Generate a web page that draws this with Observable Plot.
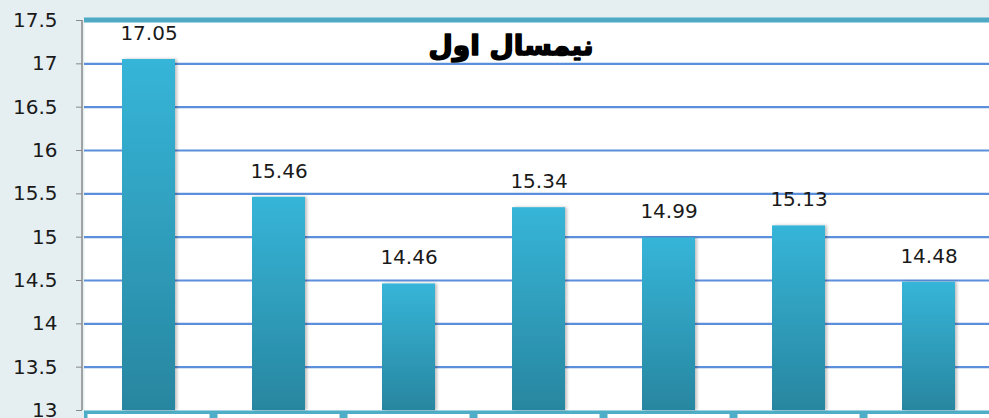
<!DOCTYPE html>
<html>
<head>
<meta charset="utf-8">
<script src="https://cdn.jsdelivr.net/npm/d3@7"></script>
<script src="https://cdn.jsdelivr.net/npm/@observablehq/plot@0.6"></script>
<style>
  html, body { margin: 0; padding: 0; background: #e5eef1; overflow: hidden; }
  #chart svg { display: block; }
</style>
</head>
<body>
<div id="chart"></div>
<script>
const title = "نیمسال اول";
const categories = ["c1", "c2", "c3", "c4", "c5", "c6", "c7"];
const values = [17.05, 15.46, 14.46, 15.34, 14.99, 15.13, 14.48];
const yTicks = [13, 13.5, 14, 14.5, 15, 15.5, 16, 16.5, 17, 17.5];
const yTickLabels = ["13", "13.5", "14", "14.5", "15", "15.5", "16", "16.5", "17", "17.5"];

const data = categories.map((c, i) => ({cat: c, value: values[i]}));

const chart = Plot.plot({
  width: 989,
  height: 418,
  marginLeft: 84,
  marginRight: 0,
  marginTop: 20,
  marginBottom: 8,
  style: {background: "transparent", fontFamily: "DejaVu Sans", fontSize: "20px", color: "#1a1a1a", overflow: "visible"},
  x: {domain: categories, range: [84, 994], paddingInner: 0.592, paddingOuter: 0.296, axis: null},
  y: {domain: [13, 17.5], axis: null},
  marks: [
    Plot.frame({fill: "white", stroke: "none"}),
    Plot.ruleY(yTicks.filter(t => t > 13 && t < 17.5), {stroke: "#5b8fdb", strokeWidth: 2.2}),
    Plot.ruleY([17.5], {stroke: "#4eaac4", strokeWidth: 5, dy: -0.5}),
    Plot.ruleY([13], {stroke: "#4eaec8", strokeWidth: 9, dy: 4.5}),
    Plot.barY(categories, {x: d => d, y1: 13, y2: 13, fill: "white", insetLeft: -34.5, insetRight: -34.5, insetBottom: -12, dy: 4}),
    Plot.barY(data, {x: "cat", y1: 13, y2: "value", fill: "url(#barGrad)"}),
    Plot.text(data, {x: "cat", y: "value", text: d => d.value.toFixed(2), lineAnchor: "middle", dy: -26, fill: "#1a1a1a", fontSize: 20}),
    Plot.axisY({ticks: yTicks, tickFormat: (d) => yTickLabels[yTicks.indexOf(d)], tickSize: 6, tickPadding: 19, dx: -2, stroke: "#888", fontSize: 20, fill: "#1a1a1a", label: null}),
    Plot.text([title], {frameAnchor: "top", dx: -26, dy: 26, fontSize: 28, fontWeight: "bold", fill: "black", stroke: "black", strokeWidth: 1.6, lineAnchor: "middle"})
  ]
});

const svg = d3.select(chart);
const defs = svg.insert("defs", ":first-child");
const grad = defs.append("linearGradient").attr("id", "barGrad").attr("x1", 0).attr("y1", 0).attr("x2", 0).attr("y2", 1);
grad.append("stop").attr("offset", "0%").attr("stop-color", "#36b5d8");
grad.append("stop").attr("offset", "100%").attr("stop-color", "#2886a0");
const f = defs.append("filter").attr("id", "shadow").attr("x", "-20%").attr("y", "-5%").attr("width", "140%").attr("height", "110%");
f.append("feDropShadow").attr("dx", 2).attr("dy", 0).attr("stdDeviation", 1.5).attr("flood-color", "#000").attr("flood-opacity", 0.25);
svg.selectAll("g").filter(function() { return this.getAttribute("fill") === "url(#barGrad)"; }).attr("filter", "url(#shadow)");

// y axis line
svg.append("line")
  .attr("x1", 82).attr("x2", 82).attr("y1", 20).attr("y2", 410)
  .attr("stroke", "#888").attr("stroke-width", 1.5);

document.getElementById("chart").appendChild(chart);
</script>
</body>
</html>
